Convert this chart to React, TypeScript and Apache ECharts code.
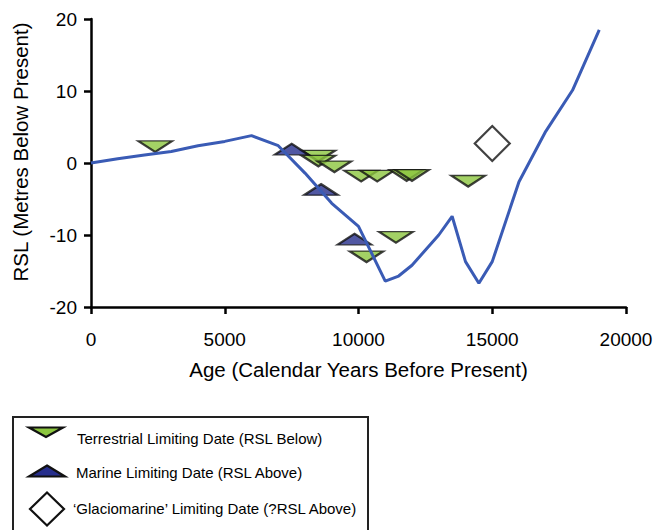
import React, { useEffect, useRef } from "react";
import * as echarts from "echarts";

// Modelled RSL curve [age, RSL]
const curveAges = [0, 1000, 2000, 3000, 4000, 5000, 6000, 7000, 8000, 9000, 10000, 11000, 11500, 12000, 13000, 13500, 14000, 14500, 15000, 16000, 17000, 18000, 19000];
const curveRsl = [0, 0.6, 1.1, 1.6, 2.4, 3.0, 3.8, 2.4, -1.4, -5.6, -8.8, -16.4, -15.7, -14.2, -10.0, -7.4, -13.7, -16.7, -13.7, -2.6, 4.4, 10.1, 18.5];

// Terrestrial limiting dates (RSL below)
const terrestrialAges = [2400, 8500, 8500, 9100, 10100, 10700, 11800, 12000, 14100, 10300, 11400];
const terrestrialRsl = [2.3, 1.0, 0.3, -0.5, -1.8, -1.8, -1.7, -1.7, -2.5, -13.0, -10.3];

// Marine limiting dates (RSL above)
const marineAges = [7500, 8600, 9850];
const marineRsl = [1.9, -3.7, -10.6];

// Glaciomarine limiting date
const glacioAges = [15000];
const glacioRsl = [2.7];

const xTicks = { min: 0, max: 20000, interval: 5000 };
const yTicks = { min: -20, max: 20, interval: 10 };

const legendLabels = [
  "Terrestrial Limiting Date (RSL Below)",
  "Marine Limiting Date (RSL Above)",
  "\u2018Glaciomarine\u2019 Limiting Date (?RSL Above)",
];

const FONT = "'Liberation Sans', Arial, sans-serif";
const GREEN = "#8CC63F";
const NAVY = "#262E8C";
const LINE = "#3A5BB5";

const zip = (a: number[], b: number[]) => a.map((v, i) => [v, b[i]]);

export default function App() {
  const ref = useRef<HTMLDivElement>(null);
  useEffect(() => {
    if (!ref.current) return;
    const chart = echarts.init(ref.current, undefined, { renderer: "svg" });
    const axisLine = { show: true, onZero: false, lineStyle: { color: "#000", width: 2.5 } };
    const axisTick = { show: true, inside: false, length: 7, lineStyle: { color: "#000", width: 2.5 } };
    chart.setOption({
      animation: false,
      backgroundColor: "#fff",
      grid: { left: 91, top: 19, right: 31, bottom: 223, containLabel: false },
      xAxis: {
        type: "value",
        min: xTicks.min,
        max: xTicks.max,
        interval: xTicks.interval,
        axisLine,
        axisTick,
        splitLine: { show: false },
        axisLabel: { color: "#000", fontSize: 19, fontFamily: FONT, margin: 23, formatter: (v: number) => String(v) },
        name: "Age (Calendar Years Before Present)",
        nameLocation: "middle",
        nameGap: 52,
        nameTextStyle: { color: "#000", fontSize: 20.5, fontFamily: FONT },
      },
      yAxis: {
        type: "value",
        min: yTicks.min,
        max: yTicks.max,
        interval: yTicks.interval,
        axisLine,
        axisTick,
        splitLine: { show: false },
        axisLabel: { color: "#000", fontSize: 19, fontFamily: FONT, margin: 14, formatter: (v: number) => String(v) },
      },
      graphic: [
        {
          type: "text",
          x: 20,
          y: 152,
          rotation: Math.PI / 2,
          style: {
            text: "RSL (Metres Below Present)",
            fill: "#000",
            font: `20.5px ${FONT}`,
            align: "center",
            verticalAlign: "middle",
          },
        },
        {
          type: "rect",
          shape: { x: 13, y: 417, width: 355, height: 140 },
          style: { fill: "none", stroke: "#222", lineWidth: 2 },
        },
        {
          type: "polygon",
          shape: { points: [[29, 427.5], [63, 427.5], [46, 437]] },
          style: { fill: GREEN, stroke: "#111", lineWidth: 2.2 },
        },
        {
          type: "text",
          x: 77,
          y: 438,
          style: { text: legendLabels[0], fill: "#000", font: `15px ${FONT}`, verticalAlign: "middle" },
        },
        {
          type: "polygon",
          shape: { points: [[47, 465.5], [65, 476.5], [29, 476.5]] },
          style: { fill: NAVY, stroke: "#111", lineWidth: 2.2 },
        },
        {
          type: "text",
          x: 76,
          y: 472.5,
          style: { text: legendLabels[1], fill: "#000", font: `15px ${FONT}`, verticalAlign: "middle" },
        },
        {
          type: "polygon",
          shape: { points: [[47, 492.5], [64, 509], [47, 525.5], [30, 509]] },
          style: { fill: "#fff", stroke: "#111", lineWidth: 2.2 },
        },
        {
          type: "text",
          x: 73,
          y: 508.5,
          style: { text: legendLabels[2], fill: "#000", font: `15px ${FONT}`, verticalAlign: "middle" },
        },
      ],
      series: [
        {
          name: legendLabels[2],
          type: "scatter",
          data: zip(glacioAges, glacioRsl),
          symbol: "diamond",
          symbolSize: [35, 35],
          itemStyle: { color: "#fff", borderColor: "#111", borderWidth: 2.2 },
        },
        {
          name: legendLabels[0],
          type: "scatter",
          data: zip(terrestrialAges, terrestrialRsl),
          symbol: "path://M0,0L2,0L1,1Z",
          symbolSize: [34, 11],
          itemStyle: { color: GREEN, borderColor: "#111", borderWidth: 2.2 },
        },
        {
          name: legendLabels[1],
          type: "scatter",
          data: zip(marineAges, marineRsl),
          symbol: "path://M1,0L2,1L0,1Z",
          symbolSize: [34, 11],
          itemStyle: { color: NAVY, borderColor: "#111", borderWidth: 2.2 },
        },
        {
          name: "Model",
          type: "line",
          data: zip(curveAges, curveRsl),
          showSymbol: false,
          symbol: "none",
          lineStyle: { color: LINE, width: 3 },
          z: 5,
        },
      ],
    });
    return () => chart.dispose();
  }, []);
  return <div ref={ref} style={{ width: 657, height: 530, position: "absolute", left: 0, top: 0 }} />;
}
